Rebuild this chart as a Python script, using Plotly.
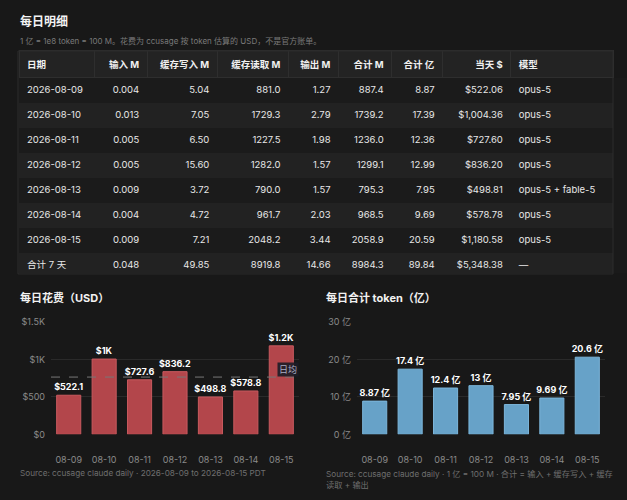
import plotly.graph_objects as go

W = 627
H = 500
BG = "#181818"
FONT = "Inter, 'Noto Sans CJK SC', sans-serif"
NB = "\u00a0"

# table data
dates = ["2026-08-09", "2026-08-10", "2026-08-11", "2026-08-12", "2026-08-13", "2026-08-14", "2026-08-15"]
input_m = ["0.004", "0.013", "0.005", "0.005", "0.009", "0.004", "0.009"]
cache_write_m = ["5.04", "7.05", "6.50", "15.60", "3.72", "4.72", "7.21"]
cache_read_m = ["881.0", "1729.3", "1227.5", "1282.0", "790.0", "961.7", "2048.2"]
output_m = ["1.27", "2.79", "1.98", "1.57", "1.57", "2.03", "3.44"]
total_m = ["887.4", "1739.2", "1236.0", "1299.1", "795.3", "968.5", "2058.9"]
total_yi = [8.87, 17.39, 12.36, 12.99, 7.95, 9.69, 20.59]
cost_usd = [522.06, 1004.36, 727.60, 836.20, 498.81, 578.78, 1180.58]
models = ["opus-5", "opus-5", "opus-5", "opus-5", "opus-5 + fable-5", "opus-5", "opus-5"]
totals_row = ["合计 7 天", "0.048", "49.85", "8919.8", "14.66", "8984.3", "89.84", "$5,348.38", "—"]
headers = ["日期", "输入 M", "缓存写入 M", "缓存读取 M", "输出 M", "合计 M", "合计 亿", "当天 $", "模型"]

days = ["08-09", "08-10", "08-11", "08-12", "08-13", "08-14", "08-15"]
cost_ticks = [0, 500, 1000, 1500]
cost_ticktext = ["$0", "$500", "$1K", "$1.5K"]
yi_ticks = [0, 10, 20, 30]
yi_ticktext = ["0 亿", "10 亿", "20 亿", "30 亿"]


def px_x(p):
    return p / W


def px_y(p):
    return 1 - p / H


def nb(s):
    # keep table text on one line
    return s.replace(" ", NB)


def money_label(v):
    if v >= 1000:
        return "$" + f"{v / 1000:.1f}".rstrip("0").rstrip(".") + "K"
    return f"${v:.1f}"


columns = [
    dates + [totals_row[0]],
    input_m + [totals_row[1]],
    cache_write_m + [totals_row[2]],
    cache_read_m + [totals_row[3]],
    output_m + [totals_row[4]],
    total_m + [totals_row[5]],
    [f"{v:.2f}" for v in total_yi] + [totals_row[6]],
    [f"${v:,.2f}" for v in cost_usd] + [totals_row[7]],
    models + [totals_row[8]],
]
columns = [[nb(s) for s in col] for col in columns]
row_fill = ["#1b1b1b" if i % 2 == 0 else "#222222" for i in range(8)]
aligns = ["left"] + ["right"] * 7 + ["left"]
col_widths = [75, 53, 70, 71, 50, 53, 51, 68, 102]

fig = go.Figure()

fig.add_trace(go.Table(
    domain=dict(x=[px_x(19), px_x(613)], y=[px_y(274), px_y(46)]),
    columnwidth=col_widths,
    header=dict(values=["<b>" + nb(h) + "</b>" for h in headers], align=aligns, height=26,
                fill_color="#232323", line=dict(color="#2e2e2e", width=1),
                font=dict(family=FONT, size=9.5, color="#f0f0f0")),
    cells=dict(values=columns, align=aligns, height=25,
               fill_color=[row_fill] * 9, line=dict(color="rgba(0,0,0,0)", width=0),
               font=dict(family=FONT, size=9.5, color="#e8e8e8")),
))

fig.add_trace(go.Bar(
    x=days, y=cost_usd, xaxis="x", yaxis="y",
    marker=dict(color="#b3464b", line=dict(color="#c95a5f", width=1)),
    text=[money_label(v) for v in cost_usd], textposition="outside", cliponaxis=False,
    constraintext="none",
    textfont=dict(family=FONT, size=9, color="#ffffff", weight="bold"),
    width=0.68, showlegend=False, hoverinfo="skip",
))

fig.add_trace(go.Bar(
    x=days, y=total_yi, xaxis="x2", yaxis="y2",
    marker=dict(color="#67a2c8", line=dict(color="#7cb6db", width=1)),
    texttemplate="%{y:.3~r} 亿", textposition="outside", cliponaxis=False,
    constraintext="none",
    textfont=dict(family=FONT, size=9, color="#ffffff", weight="bold"),
    width=0.68, showlegend=False, hoverinfo="skip",
))

avg_cost = sum(cost_usd) / len(cost_usd)

axis_common = dict(type="category", showgrid=False, zeroline=False, showline=False, ticks="",
                   tickfont=dict(family=FONT, size=9, color="#8a8a8a"), ticklabelstandoff=19,
                   fixedrange=True)
yaxis_common = dict(showgrid=True, gridcolor="#2a2a2a", gridwidth=1, zeroline=False,
                    showline=False, ticks="", tickfont=dict(family=FONT, size=9, color="#8a8a8a"),
                    ticklabelstandoff=5, fixedrange=True)

fig.update_layout(
    width=W, height=H,
    margin=dict(l=0, r=0, t=0, b=0),
    paper_bgcolor=BG, plot_bgcolor=BG,
    font=dict(family=FONT, color="#e8e8e8"),
    xaxis=dict(domain=[px_x(51), px_x(299)], anchor="y", **axis_common),
    yaxis=dict(domain=[px_y(438), px_y(323)], anchor="x", range=[0, 1500],
               tickvals=cost_ticks, ticktext=cost_ticktext, **yaxis_common),
    xaxis2=dict(domain=[px_x(357), px_x(605)], anchor="y2", **axis_common),
    yaxis2=dict(domain=[px_y(438), px_y(323)], anchor="x2", range=[0, 30],
                tickvals=yi_ticks, ticktext=yi_ticktext, **yaxis_common),
    shapes=[
        dict(type="line", xref="x domain", yref="y", x0=0, x1=1, y0=avg_cost, y1=avg_cost,
             line=dict(color="#777777", width=1, dash="dash"), layer="above"),
        dict(type="rect", xref="paper", yref="paper", x0=px_x(18), x1=px_x(613),
             y0=px_y(274), y1=px_y(46), line=dict(color="#2c2c2c", width=1), layer="above"),
    ],
    annotations=[
        dict(text="<b>每日明细</b>", xref="paper", yref="paper", x=px_x(18), y=px_y(16),
             xanchor="left", yanchor="middle", showarrow=False,
             font=dict(family=FONT, size=12, color="#f2f2f2")),
        dict(text="1 亿 = 1e8 token = 100 M。花费为 ccusage 按 token 估算的 USD，不是官方账单。",
             xref="paper", yref="paper", x=px_x(18), y=px_y(36), xanchor="left", yanchor="middle",
             showarrow=False, font=dict(family=FONT, size=8, color="#7a7a7a")),
        dict(text="<b>每日花费（USD）</b>", xref="paper", yref="paper", x=px_x(18), y=px_y(299),
             xanchor="left", yanchor="middle", showarrow=False,
             font=dict(family=FONT, size=11, color="#f2f2f2")),
        dict(text="<b>每日合计 token（亿）</b>", xref="paper", yref="paper", x=px_x(324), y=px_y(299),
             xanchor="left", yanchor="middle", showarrow=False,
             font=dict(family=FONT, size=11, color="#f2f2f2")),
        dict(text="日均", xref="x domain", yref="y", x=1, y=avg_cost, xanchor="right", yanchor="bottom",
             showarrow=False, bgcolor="rgba(28,28,38,0.9)", borderpad=1,
             font=dict(family=FONT, size=9, color="#a9aec4")),
        dict(text="Source: ccusage claude daily · 2026-08-09 to 2026-08-15 PDT",
             xref="paper", yref="paper", x=px_x(18), y=px_y(478), xanchor="left", yanchor="middle",
             showarrow=False, font=dict(family=FONT, size=8.2, color="#6f6f6f")),
        dict(text="Source: ccusage claude daily · 1 亿 = 100 M · 合计 = 输入 + 缓存写入 + 缓存<br>读取 + 输出",
             xref="paper", yref="paper", x=px_x(324), y=px_y(471), xanchor="left", yanchor="top",
             align="left", showarrow=False, font=dict(family=FONT, size=8.2, color="#6f6f6f")),
    ],
)

fig.write_html("out.html", config={"displayModeBar": False},
               post_script="document.body.style.margin='0';document.body.style.overflow='hidden';")
